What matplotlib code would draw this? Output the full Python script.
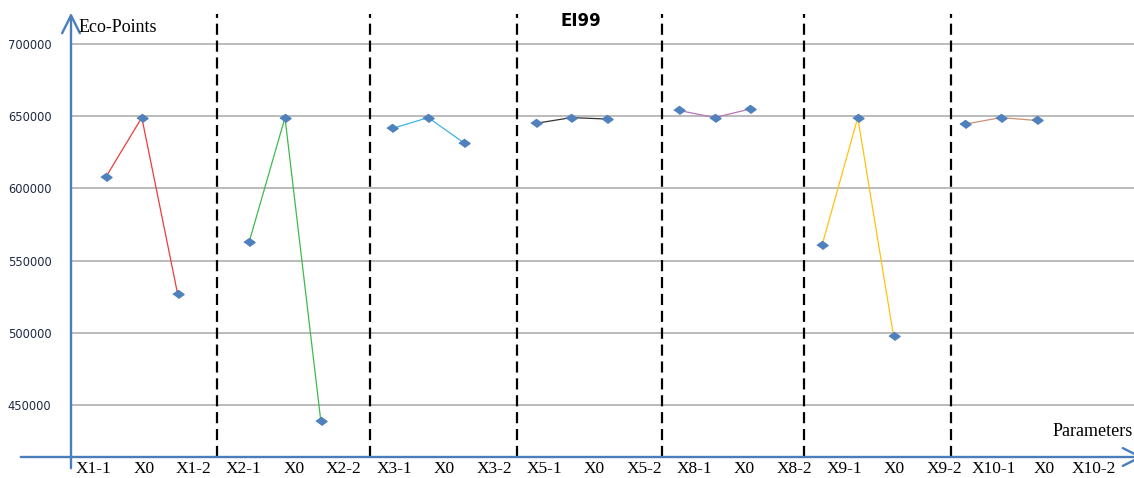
import matplotlib.pyplot as plt

# data
groups = ['X1', 'X2', 'X3', 'X5', 'X8', 'X9', 'X10']
low_vals = [608000, 563000, 641500, 645000, 654000, 560500, 644500]
mid_vals = [649000, 649000, 649000, 649000, 649000, 649000, 649000]
high_vals = [527000, 439000, 631500, 648000, 655000, 497500, 647000]
line_colors = ['#ee3b3b', '#3dbb4e', '#3cb4e6', '#333333', '#b873b8', '#ffc20e', '#d09070']
tick_labels = []
for g in groups:
    tick_labels += [g + '-1', 'X0', g + '-2']
y_ticks = [450000, 500000, 550000, 600000, 650000, 700000]

W, H = 1134, 478
fig = plt.figure(figsize=(W / 100, H / 100), dpi=100)
# axes box in pixels: left 71, right 1134, top 10, bottom 457
ax = fig.add_axes([71 / W, (H - 457) / H, (W - 71) / W, (457 - 10) / H])

# points sit on slots of 35.8 px starting at px 106, 4 slots per group
slot0, slot_w = 106, 35.8
ax.set_xlim((71 - slot0) / slot_w, (W - slot0) / slot_w)
ax.set_ylim(414000, 723500)

for g in range(len(groups)):
    xs = [4 * g, 4 * g + 1, 4 * g + 2]
    ys = [low_vals[g], mid_vals[g], high_vals[g]]
    ax.plot(xs, ys, color=line_colors[g], lw=0.9, zorder=3)
    ax.plot(xs, ys, ls='none', marker=[(-1, 0), (0, 0.72), (1, 0), (0, -0.72)],
            ms=8, color='#4f81bd', zorder=4)

for y in y_ticks:
    ax.axhline(y, color='#a8a8a8', lw=1.1, zorder=1)

# dashed separators between groups (hand-drawn shapes in the original, pixel x)
sep_px = [217, 370, 517, 662, 804, 951]
for px in sep_px:
    xf = (px - 71) / (W - 71)
    ax.plot([xf, xf], [0, 0.991], transform=ax.transAxes, color='black',
            lw=1.6, ls=(0, (5, 2.6)), zorder=2, clip_on=False)

for s in ax.spines.values():
    s.set_visible(False)
ax.set_xticks([])
ax.set_yticks(y_ticks)
ax.set_yticklabels([str(v) for v in y_ticks], fontsize=8.3, color='#1f2a44')
ax.tick_params(axis='y', length=0, pad=14)

# category labels under the axis (not aligned with the points)
for k, lab in enumerate(tick_labels):
    xf = (94 + 50 * k - 71) / (W - 71)
    ax.text(xf, -12 / (457 - 10), lab, transform=ax.transAxes, ha='center', va='center',
            fontsize=12.5, family='Liberation Serif', clip_on=False)

# axis arrows
blue = '#4a7ebb'
ax.annotate('', xy=(71, H - 10), xytext=(71, H - 471), xycoords='figure pixels',
            arrowprops=dict(arrowstyle='->', color=blue, lw=1.7, mutation_scale=32),
            annotation_clip=False)
ax.annotate('', xy=(1146, H - 457), xytext=(18, H - 457), xycoords='figure pixels',
            arrowprops=dict(arrowstyle='->', color=blue, lw=1.7, mutation_scale=32),
            annotation_clip=False)

fig.text(79 / W, 1 - 27 / H, 'Eco-Points', family='Liberation Serif', fontsize=13,
         ha='left', va='center')
fig.text(1133 / W, 1 - 431 / H, 'Parameters', family='Liberation Serif', fontsize=13,
         ha='right', va='center')
fig.text(581 / W, 1 - 21 / H, 'EI99', fontsize=12, fontweight='bold',
         ha='center', va='center')

fig.savefig('out.png', dpi=100)
